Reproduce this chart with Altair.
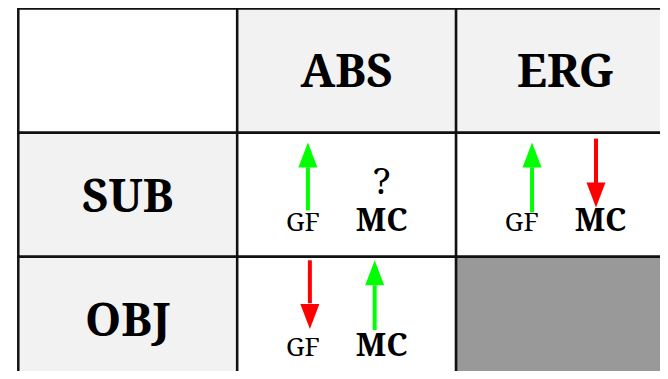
import altair as alt
import pandas as pd

# ---- data ----
col_labels = ["ABS", "ERG"]          # header columns
row_labels = ["SUB", "OBJ"]          # header rows
body_cells = [("SUB", "ABS"), ("SUB", "ERG"), ("OBJ", "ABS")]
blocked_cells = [("OBJ", "ERG")]
question_cells = [("SUB", "ABS")]

# arrows: row, column, x-fraction in cell, tail / head-base / tip fractions, direction
arrow_row = ["SUB", "SUB", "SUB", "OBJ", "OBJ"]
arrow_col = ["ABS", "ERG", "ERG", "ABS", "ABS"]
arrow_xf = [0.323, 0.347, 0.639, 0.332, 0.628]
arrow_tail = [0.626, 0.642, 0.048, 0.028, 0.590]
arrow_base = [0.281, 0.281, 0.409, 0.373, 0.229]
arrow_tip = [0.080, 0.080, 0.602, 0.582, 0.028]
arrow_dir = ["up", "up", "down", "down", "up"]

gf_xf, mc_xf, label_yf = 0.30, 0.66, 0.795
q_yf = 0.49
header_yf = 0.635

cols = [""] + col_labels
rows = [""] + row_labels
ci = {c: i for i, c in enumerate(cols)}
ri = {r: i for i, r in enumerate(rows)}

# ---- tables ----
cell_recs = []
for r in rows:
    for c in cols:
        if r == "" and c == "":
            kind = "corner"
        elif r == "" or c == "":
            kind = "header"
        elif (r, c) in blocked_cells:
            kind = "blocked"
        else:
            kind = "body"
        cell_recs.append({"x0": ci[c], "x1": ci[c] + 1, "y0": ri[r], "y1": ri[r] + 1, "kind": kind})
cells = pd.DataFrame(cell_recs)

head_recs = [{"label": c, "x": ci[c] + 0.5, "y": header_yf} for c in col_labels]
head_recs += [{"label": r, "x": 0.5, "y": ri[r] + header_yf} for r in row_labels]
heads = pd.DataFrame(head_recs)

gf = pd.DataFrame([{"label": "GF", "x": ci[c] + gf_xf, "y": ri[r] + label_yf} for r, c in body_cells])
mc = pd.DataFrame([{"label": "MC", "x": ci[c] + mc_xf, "y": ri[r] + label_yf} for r, c in body_cells])
qm = pd.DataFrame([{"label": "?", "x": ci[c] + mc_xf, "y": ri[r] + q_yf} for r, c in question_cells])

arrows = pd.DataFrame({
    "x": [ci[c] + f for c, f in zip(arrow_col, arrow_xf)],
    "tail": [ri[r] + f for r, f in zip(arrow_row, arrow_tail)],
    "base": [ri[r] + f for r, f in zip(arrow_row, arrow_base)],
    "tip": [ri[r] + f for r, f in zip(arrow_row, arrow_tip)],
    "dir": arrow_dir,
})

xs = alt.Scale(domain=[0, 3], range=[10.3, 667], zero=False, nice=False)
ys = alt.Scale(domain=[0, 3], range=[0.5, 373], zero=False, nice=False)

FONT = "Noto Serif, Droid Serif, Liberation Serif"
DIR_COLOR = {"up": "#00ff00", "down": "#ff0000"}

rects = alt.Chart(cells).mark_rect(stroke="#111111", strokeWidth=2.5).encode(
    x=alt.X("x0:Q", scale=xs, axis=None), x2="x1:Q",
    y=alt.Y("y0:Q", scale=ys, axis=None), y2="y1:Q",
    fill=alt.Fill("kind:N", legend=None,
                  scale=alt.Scale(domain=["corner", "header", "body", "blocked"],
                                  range=["#ffffff", "#f2f2f2", "#ffffff", "#999999"])),
)

def text_layer(df, size, weight):
    return alt.Chart(df).mark_text(font=FONT, fontSize=size, fontWeight=weight,
                                   baseline="alphabetic", align="center", color="#000000").encode(
        x=alt.X("x:Q", scale=xs, axis=None),
        y=alt.Y("y:Q", scale=ys, axis=None),
        text="label:N",
    )

def arrow_layers(d, head_path):
    base = alt.Chart(arrows).transform_filter(alt.datum.dir == d)
    shaft = base.mark_rule(strokeWidth=4, color=DIR_COLOR[d]).encode(
        x=alt.X("x:Q", scale=xs, axis=None),
        y=alt.Y("tail:Q", scale=ys, axis=None), y2="base:Q",
    )
    head = base.mark_point(shape=head_path, size=625, filled=True, opacity=1,
                           strokeWidth=0, color=DIR_COLOR[d]).encode(
        x=alt.X("x:Q", scale=xs, axis=None),
        y=alt.Y("tip:Q", scale=ys, axis=None),
    )
    return [shaft, head]

chart = alt.layer(
    rects,
    text_layer(heads, 46, "bold"),
    text_layer(gf, 26, "normal"),
    text_layer(mc, 32, "bold"),
    text_layer(qm, 37, "normal"),
    *arrow_layers("up", "M0,0L0.76,2L-0.76,2Z"),
    *arrow_layers("down", "M0,0L0.76,-2L-0.76,-2Z"),
).properties(
    width=652, height=363, padding=0, autosize=alt.AutoSizeParams(type="none"),
).configure_view(stroke=None)

chart.save("out.html", embed_options={"renderer": "svg", "actions": False})
